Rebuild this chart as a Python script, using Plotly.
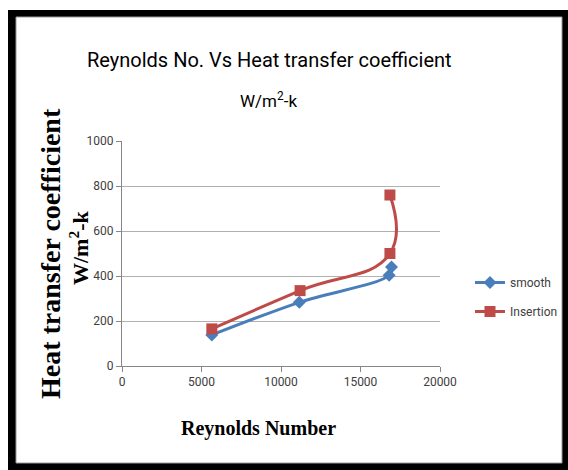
import plotly.graph_objects as go

# Data
smooth_x = [5650, 11150, 16800, 16950]
smooth_y = [138, 283, 403, 440]
insert_x = [5650, 11200, 16850, 16850]
insert_y = [165, 335, 500, 760]

x_ticks = [0, 5000, 10000, 15000, 20000]
x_ticktext = ["0", "5000", "10000", "15000", "20000"]
y_ticks = [0, 200, 400, 600, 800, 1000]
y_ticktext = ["0", "200", "400", "600", "800", "1000"]

BLUE = "#4A7EBB"
RED = "#BE4B48"

L, R, T, B = 122, 128, 141, 104
W, H = 568, 470
PW, PH = W - L - R, H - T - B

def px(x):
    return (x - L) / PW

def py(y):
    return (H - B - y) / PH

fig = go.Figure()
fig.add_trace(go.Scatter(
    x=smooth_x, y=smooth_y, name="smooth", mode="lines+markers", legendgroup="s",
    line=dict(color=BLUE, width=3, shape="spline", smoothing=1.0),
    marker=dict(symbol="diamond", size=10, color=BLUE),
))
fig.add_trace(go.Scatter(
    x=insert_x, y=insert_y, name="Insertion", mode="lines+markers", legendgroup="i",
    line=dict(color=RED, width=3, shape="spline", smoothing=1.3),
    marker=dict(symbol="square", size=11, color=RED),
))

sans = "Roboto, Liberation Sans, sans-serif"
serif = "Liberation Serif, Times New Roman, serif"
tickfont = dict(family=sans, size=12, color="#404040")
fig.update_xaxes(range=[0, 20000], tickvals=x_ticks, ticktext=x_ticktext, showgrid=False,
                 showline=True, linecolor="#868686", linewidth=1,
                 ticks="outside", ticklen=5, tickcolor="#868686",
                 tickfont=tickfont, zeroline=False)
fig.update_yaxes(range=[0, 1000], tickvals=y_ticks, ticktext=y_ticktext, showgrid=True,
                 gridcolor="#B0B0B0", gridwidth=1,
                 showline=True, linecolor="#868686", linewidth=1,
                 ticks="outside", ticklen=5, tickcolor="#868686",
                 tickfont=tickfont, zeroline=False)

def a(text, x, y, font, angle=0):
    return dict(text=text, x=px(x), y=py(y), xref="paper", yref="paper",
                xanchor="center", yanchor="middle", showarrow=False,
                textangle=angle, font=font)

ann = [
    a("Reynolds No. Vs Heat transfer coefficient", 269, 60,
      dict(family=sans, size=20, color="#000000")),
    a("W/m<sup>2</sup>-k", 268, 100, dict(family=sans, size=17, color="#000000")),
    a("<b>Heat transfer coefficient</b>", 50, 254,
      dict(family=serif, size=28, color="#000000"), -90),
    a("<b>W/m<sup>2</sup>-k</b>", 79, 248,
      dict(family=serif, size=22, color="#000000"), -90),
    a("<b>Reynolds Number</b>", 258, 428,
      dict(family=serif, size=20, color="#000000")),
]

shapes = [
    dict(type="rect", xref="paper", yref="paper", layer="below",
         x0=px(8), x1=px(580), y0=py(10), y1=py(480),
         fillcolor="#000000", line=dict(width=0)),
    dict(type="rect", xref="paper", yref="paper", layer="below",
         x0=px(16), x1=px(562), y0=py(17), y1=py(463),
         fillcolor="#FFFFFF", line=dict(color="#9A9A9A", width=1)),
]

fig.update_layout(
    width=W, height=H,
    margin=dict(l=L, r=R, t=T, b=B, autoexpand=False),
    paper_bgcolor="white", plot_bgcolor="rgba(0,0,0,0)",
    showlegend=True,
    legend=dict(xref="container", yref="container",
                x=470 / W, y=1 - 268 / H, xanchor="left", yanchor="top",
                font=dict(family=sans, size=12, color="#404040"),
                bgcolor="rgba(0,0,0,0)", tracegroupgap=10, itemwidth=30),
    annotations=ann, shapes=shapes,
)

fig.write_html("out.html", config={"displayModeBar": False},
               post_script="document.body.style.margin='0px';document.body.style.overflow='hidden';")
